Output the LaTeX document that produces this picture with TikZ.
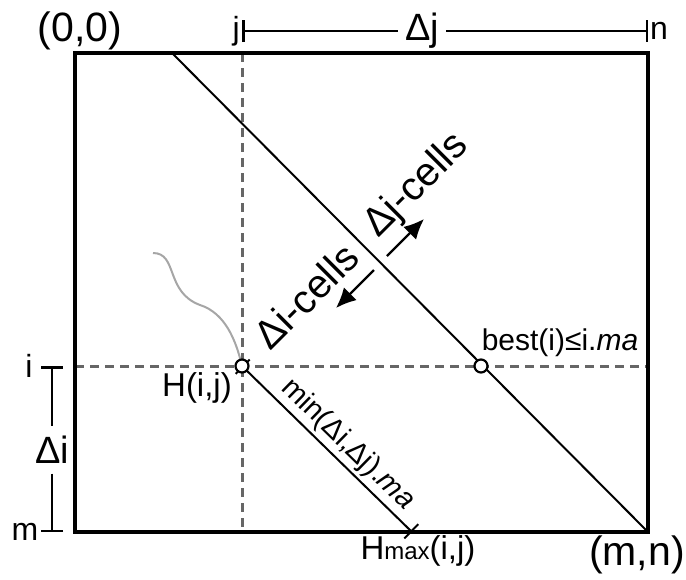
\documentclass[tikz,border=0pt]{standalone}
\usepackage{fontspec}
\setmainfont{Liberation Sans}
\usetikzlibrary{arrows.meta}

\newcommand{\fsz}[1]{\fontsize{#1}{#1}\selectfont}
\definecolor{guidegray}{HTML}{666666}
\definecolor{trailgray}{HTML}{A6A6A6}

\begin{document}
\begin{tikzpicture}[x=1pt,y=-1pt,
  frame/.style={line width=4.5pt},
  guide/.style={guidegray, line width=3pt, dash pattern=on 9pt off 6pt},
  diag/.style={line width=2pt},
  span/.style={line width=2.5pt},
  trail/.style={trailgray, line width=2pt},
  dot/.style={circle, draw, fill=white, line width=2.2pt, minimum size=13pt, inner sep=0pt},
  lbl/.style={inner sep=0pt, font=\fsz{32}},
  cellarrow/.style={line width=2.2pt, -{Latex[length=20pt,width=18pt]}}
]

\useasboundingbox (0,0) rectangle (686,579);

% Corners and points
\coordinate (O) at (75,53);
\coordinate (N) at (648,53);
\coordinate (M) at (75,532);
\coordinate (MN) at (648,532);
\coordinate (D) at (172,53);
\coordinate (Hc) at (242,366);
\coordinate (Bc) at (481,366);
\coordinate (Hm) at (412,532);

% Guides
\draw[guide] (Hc |- O) -- (Hc |- M);
\draw[guide] (Hc -| O) -- (Hc -| N);

% Matrix
\draw[frame] (O) rectangle (MN);
\draw[diag] (D) -- (MN);
\draw[diag, {Bar[width=20pt]}-{Bar[width=20pt]}] (Hc) -- node[sloped, above, pos=0.55, font=\fsz{29}, inner sep=3pt] (minlbl) {min(Δi,Δj).\textit{ma}} (Hm);

% Top span
\coordinate (jt) at (242,31);
\coordinate (nt) at (648,31);
\node[lbl, font=\fsz{38}, inner xsep=7pt] (dj) at (422,31) {Δj};
\draw[span, {Bar[width=22pt]}-] (jt) -- (dj);
\draw[span, -{Bar[width=22pt]}] (dj) -- (nt);
\node[lbl, anchor=east] (j) at ([xshift=-2pt]jt) {j};
\node[lbl, anchor=west] (n) at ([xshift=2pt]nt) {n};

% Left span
\coordinate (it) at (52,366);
\coordinate (mt) at (52,532);
\node[lbl, font=\fsz{38}, text height=27pt, text depth=0pt, inner ysep=10pt] (di) at (52,450) {Δi};
\draw[span, {Bar[width=22pt]}-] (it) -- (di);
\draw[span, -{Bar[width=22pt]}] (di) -- (mt);
\node[lbl] (i) at (29,366) {i};
\node[lbl] (m) at (25,532) {m};

% Cells
\node[font=\fsz{40}, rotate=45] (ci) at (306,296) {Δi-cells};
\node[font=\fsz{40}, rotate=45] (cj) at (417,186) {Δj-cells};
\coordinate (ja) at (387,256);
\coordinate (jb) at (424,219);
\coordinate (ia) at (374,270);
\coordinate (ib) at (336,308);
\draw[cellarrow] (ja) -- (jb);
\draw[cellarrow] (ia) -- (ib);

% Path
\coordinate (t0) at (153,253);
\draw[trail] (t0) .. controls (178,253) and (165,292) .. (200,305) .. controls (225,313) and (236,340) .. (Hc);

\node[dot] (H) at (Hc) {};
\node[dot] (B) at (Bc) {};

% Labels
\node[lbl, font=\fsz{41}] (o) at (80,31) {(0,0)};
\node[lbl, font=\fsz{41}] (mn) at (637,555) {(m,n)};
\node[lbl, font=\fsz{33}] (hlbl) at (197,388) {H(i,j)};
\node[lbl, font=\fsz{30}] (blbl) at (560,343) {best(i)≤i.\textit{ma}};
\node[lbl, font=\fsz{33}] (hmlbl) at (418,551) {H{\fsz{24}max}(i,j)};

\end{tikzpicture}
\end{document}
